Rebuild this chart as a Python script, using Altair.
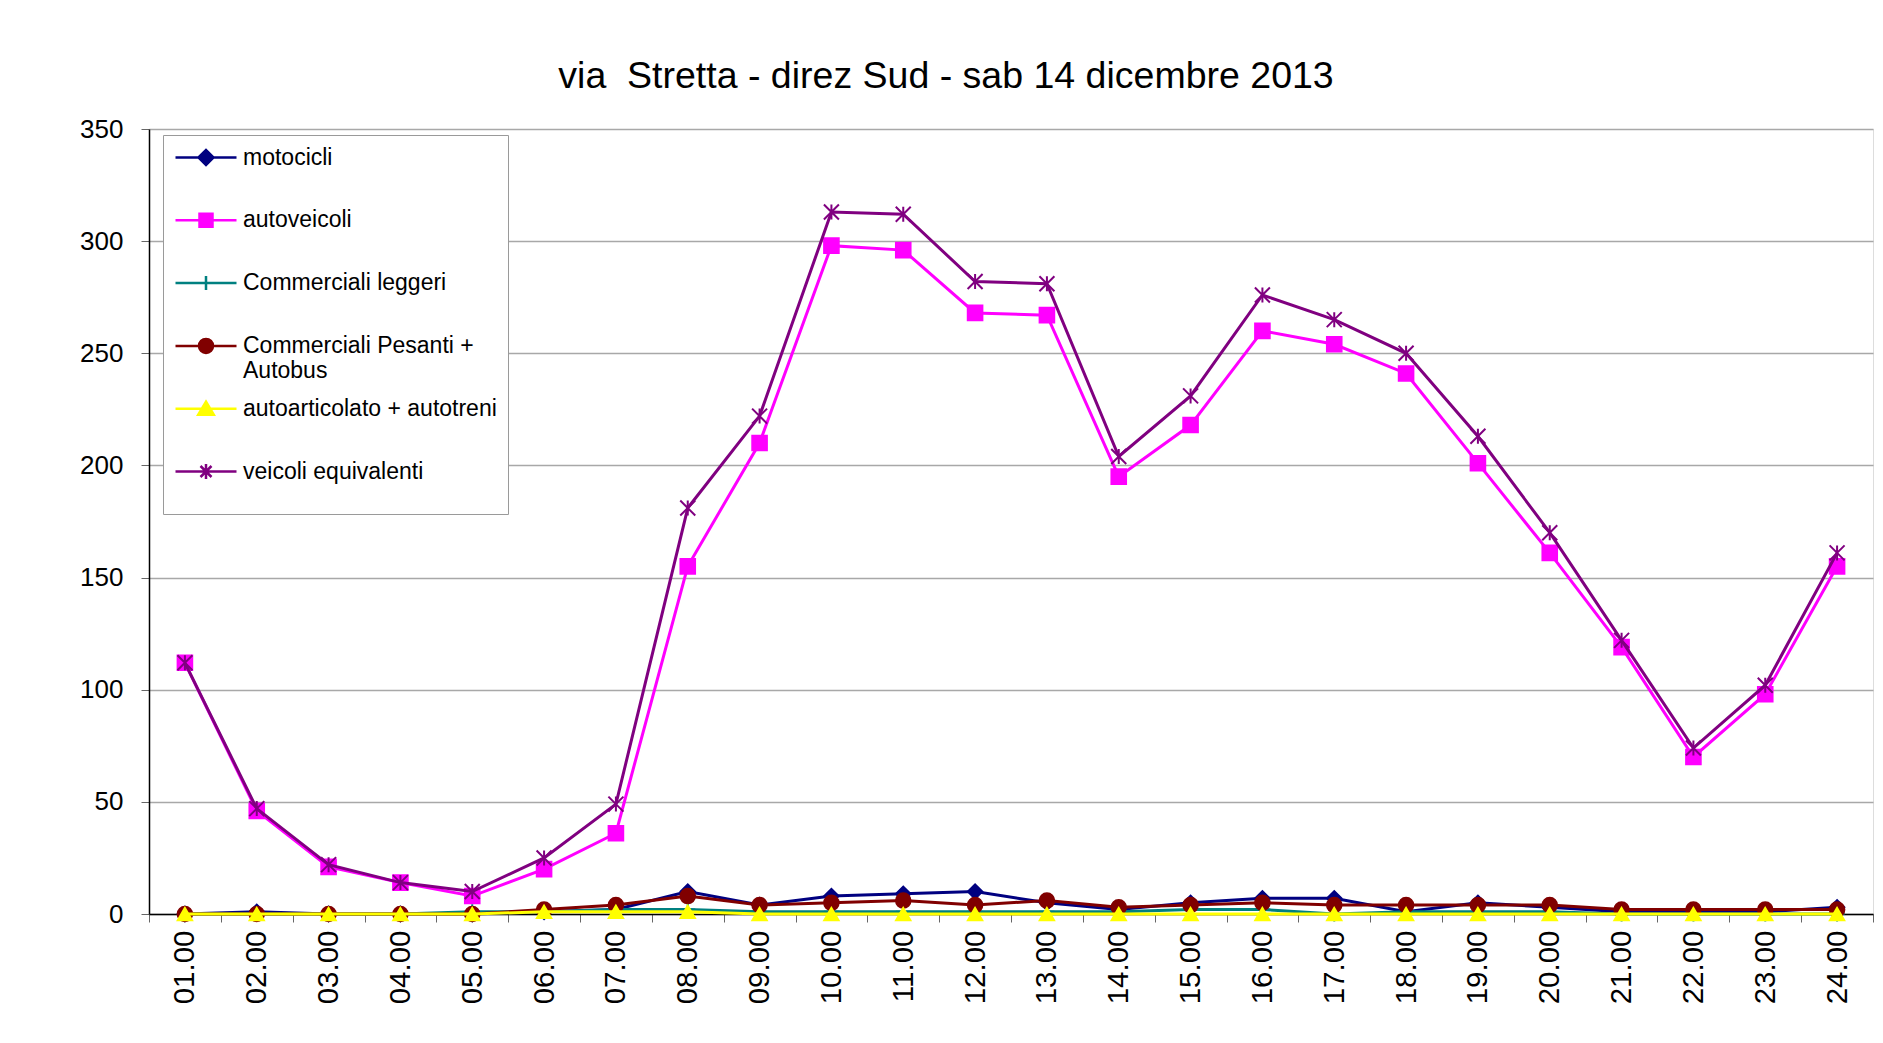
import altair as alt
import pandas as pd

hours = ["01.00", "02.00", "03.00", "04.00", "05.00", "06.00", "07.00", "08.00",
         "09.00", "10.00", "11.00", "12.00", "13.00", "14.00", "15.00", "16.00",
         "17.00", "18.00", "19.00", "20.00", "21.00", "22.00", "23.00", "24.00"]

series_names = ["motocicli", "autoveicoli", "Commerciali leggeri",
                "Commerciali Pesanti + Autobus", "autoarticolato + autotreni",
                "veicoli equivalenti"]
series_colors = ["#000080", "#FF00FF", "#008080", "#800000", "#FFFF00", "#800080"]

motocicli = [0, 1, 0, 0, 0, 1, 2, 10, 4, 8, 9, 10, 5, 2, 5, 7, 7, 1, 5, 3, 1, 1, 1, 3]
autoveicoli = [112, 46, 21, 14, 8, 20, 36, 155, 210, 298, 296, 268, 267, 195, 218, 260,
               254, 241, 201, 161, 119, 70, 98, 155]
commerciali_leggeri = [0, 0, 0, 0, 1, 1, 2, 2, 1, 1, 1, 1, 1, 1, 2, 2, 0, 1, 1, 1, 0, 0, 0, 0]
commerciali_pesanti = [0, 0, 0, 0, 0, 2, 4, 8, 4, 5, 6, 4, 6, 3, 4, 5, 4, 4, 4, 4, 2, 2, 2, 2]
autoarticolati = [0, 0, 0, 0, 0, 1, 1, 1, 0, 0, 0, 0, 0, 0, 0, 0, 0, 0, 0, 0, 0, 0, 0, 0]
veicoli_equivalenti = [112, 47, 22, 14, 10, 25, 49, 181, 222, 313, 312, 282, 281, 204, 231,
                       276, 265, 250, 213, 170, 122, 74, 102, 161]

y_ticks = [0, 50, 100, 150, 200, 250, 300, 350]
title_text = "via\u00a0 Stretta - direz Sud - sab 14 dicembre 2013"

all_values = [motocicli, autoveicoli, commerciali_leggeri, commerciali_pesanti,
              autoarticolati, veicoli_equivalenti]
rows = []
for name, vals in zip(series_names, all_values):
    for h, v in zip(hours, vals):
        rows.append({"ora": h, "serie": name, "valore": v})
df = pd.DataFrame(rows)

# marker shape of each series on the chart
marker_shapes = ["diamond", "square", "M-1,0H1M0,-1V1", "circle", "triangle-up",
                 "M-1,-1L1,1M-1,1L1,-1M0,-1V1"]
marker_widths = [1.6, 1.6, 2.0, 1.6, 1.6, 2.0]
# legend symbols: a line with the marker in the middle (unit = 10 px)
LINE = "M-3.05,0H3.05"
legend_shapes = [
    LINE + "M-0.75,0L0,-0.75L0.75,0L0,0.75Z",
    LINE + "M-0.65,-0.65H0.65V0.65H-0.65Z",
    LINE + "M0,-0.7V0.7",
    LINE + "M-0.7,0A0.7,0.7 0 1,0 0.7,0A0.7,0.7 0 1,0 -0.7,0Z",
    LINE + "M0,-0.7L0.78,0.6L-0.78,0.6Z",
    LINE + "M-0.55,-0.55L0.55,0.55M-0.55,0.55L0.55,-0.55M0,-0.75V0.75",
]

FONT = "Liberation Sans"

x_enc = alt.X("ora:O", sort=hours,
              scale=alt.Scale(type="band", paddingInner=0, paddingOuter=0),
              axis=alt.Axis(title=None, labelAngle=270, labelAlign="right",
                            labelBaseline="middle", labelFontSize=29.5, labelFont=FONT,
                            labelColor="black", labelPadding=8, tickBand="extent",
                            tickSize=8, tickColor="#666666", domainColor="black",
                            domainWidth=1.5, grid=False))
y_enc = alt.Y("valore:Q", scale=alt.Scale(domain=[0, 350], nice=False),
              axis=alt.Axis(title=None, values=y_ticks, labelFontSize=26, labelFont=FONT,
                            labelColor="black", labelPadding=18, tickSize=8,
                            tickColor="#666666", domainColor="black", domainWidth=1.5,
                            grid=True, gridColor="#a8a8a8", gridWidth=1.3))

layers = []
for name, shp, col, sw in zip(series_names, marker_shapes, series_colors, marker_widths):
    base = alt.Chart(df).transform_filter(alt.datum.serie == name)
    line = base.mark_line(strokeWidth=3, color=col).encode(x=x_enc, y=y_enc)
    pts = base.mark_point(filled=True, shape=shp, size=225, strokeWidth=sw,
                          fill=col, stroke=col, opacity=1).encode(x=x_enc, y=y_enc)
    layers += [line, pts]

leg = alt.Legend(
    title=" ", titleOrient="bottom", titleFontSize=16, titlePadding=3,
    orient="none", legendX=14, legendY=6, direction="vertical",
    symbolSize=400, symbolStrokeWidth=2.5, symbolOpacity=1, symbolOffset=20.5,
    labelFont=FONT, labelFontSize=23, labelColor="black", labelLimit=600,
    labelOffset=25.5, gridAlign="all", rowPadding=12.8, padding=11,
    fillColor="white", strokeColor="#9a9a9a",
    labelExpr="datum.label == 'Commerciali Pesanti + Autobus' ? "
              "['Commerciali Pesanti +', 'Autobus'] : datum.label",
)

color_scale = alt.Scale(domain=series_names, range=series_colors)
# invisible layer that only carries the legend
legend_layer = alt.Chart(df).mark_point(filled=True, opacity=0, size=400,
                                        strokeWidth=2.5).encode(
    x=x_enc, y=y_enc,
    fill=alt.Fill("serie:N", scale=color_scale, legend=leg),
    stroke=alt.Stroke("serie:N", scale=color_scale, legend=leg),
    shape=alt.Shape("serie:N", scale=alt.Scale(domain=series_names, range=legend_shapes),
                    legend=leg),
)
layers.append(legend_layer)

chart = alt.layer(*layers).properties(
    width=1724, height=785,
    padding={"left": 141, "top": 121, "right": 2, "bottom": 120},
    autosize="none",
    title=alt.TitleParams(title_text, font=FONT, fontSize=37.5, fontWeight="normal",
                          color="black", anchor="middle", frame="group", dx=-65,
                          offset=21),
).configure_view(stroke="#8c8c8c", strokeWidth=1.5).configure(background="white")

chart.save("out.html", embed_options={"renderer": "svg", "actions": False})
